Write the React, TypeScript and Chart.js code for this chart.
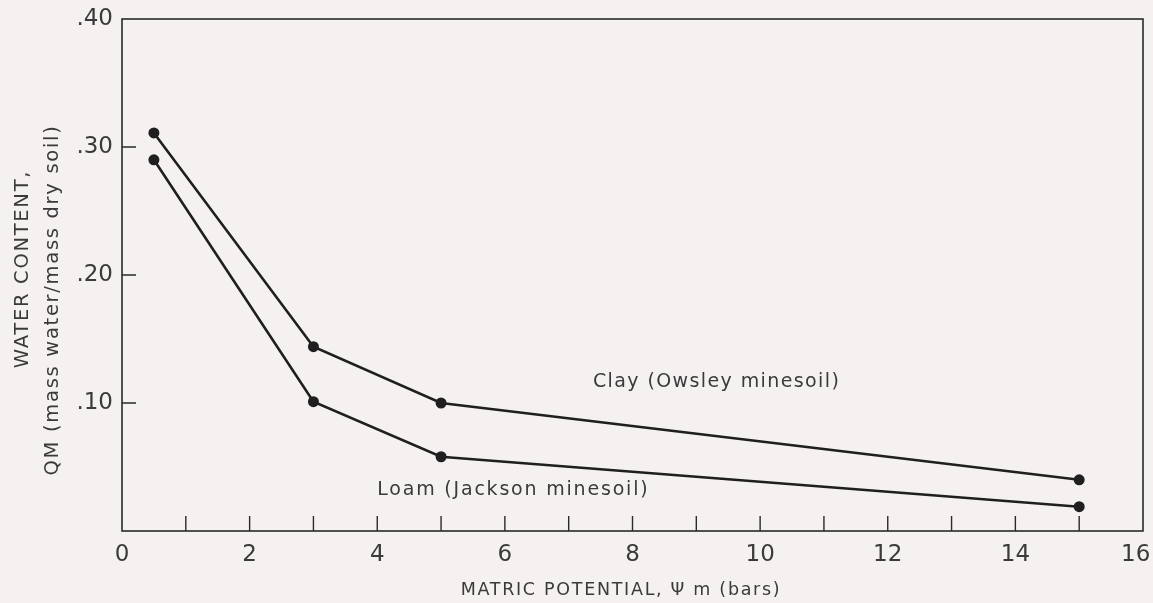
import React, { useEffect, useRef } from "react";
import { Chart, registerables } from "chart.js";
Chart.register(...registerables);

// Data
const matricPotential = [0.5, 3, 5, 15];
const clayWater = [0.311, 0.144, 0.1, 0.04];
const loamWater = [0.29, 0.101, 0.058, 0.019];
const clayLabel = "Clay (Owsley minesoil)";
const loamLabel = "Loam (Jackson minesoil)";
const clayLabelAt = [7.38, 0.116];
const loamLabelAt = [4.0, 0.032];
const xTitle = "MATRIC POTENTIAL, \u03A8 m (bars)";
const yTitleLines = ["WATER CONTENT,", "QM (mass water/mass dry soil)"];

const BG = "#f6f1f1";
const INK = "#1f1f1f";
const TEXT = "#3a3a3a";
const FONT = "'DejaVu Sans', sans-serif";

const decorPlugin = {
  id: "decor",
  afterDraw(chart: any) {
    const ctx = chart.ctx as CanvasRenderingContext2D;
    const { left, right, top, bottom } = chart.chartArea;
    const xs = chart.scales.x;
    const ys = chart.scales.y;
    ctx.save();
    // frame
    ctx.strokeStyle = "#2a2a2a";
    ctx.lineWidth = 1.6;
    ctx.strokeRect(left, top, right - left, bottom - top);
    // inward ticks
    ctx.lineWidth = 1.4;
    ctx.beginPath();
    xs.ticks.forEach((t: any) => {
      if (t.value <= xs.min || t.value >= xs.max) return;
      const px = xs.getPixelForValue(t.value);
      ctx.moveTo(px, bottom);
      ctx.lineTo(px, bottom - 15);
    });
    ys.ticks.forEach((t: any) => {
      if (t.value <= ys.min + 1e-9 || t.value >= ys.max - 1e-9) return;
      const py = ys.getPixelForValue(t.value);
      ctx.moveTo(left, py);
      ctx.lineTo(left + 14, py);
    });
    ctx.stroke();

    // series annotations
    ctx.fillStyle = TEXT;
    ctx.font = `19px ${FONT}`;
    (ctx as any).letterSpacing = "1.4px";
    ctx.textAlign = "left";
    ctx.textBaseline = "middle";
    ctx.fillText(clayLabel, xs.getPixelForValue(clayLabelAt[0]), ys.getPixelForValue(clayLabelAt[1]));
    (ctx as any).letterSpacing = "1.8px";
    ctx.fillText(loamLabel, xs.getPixelForValue(loamLabelAt[0]), ys.getPixelForValue(loamLabelAt[1]));

    // x title
    ctx.font = `17.5px ${FONT}`;
    (ctx as any).letterSpacing = "1.7px";
    ctx.textAlign = "center";
    ctx.fillText(xTitle, 621, 590);

    // y title (two rotated lines)
    ctx.font = `19.5px ${FONT}`;
    (ctx as any).letterSpacing = "1.7px";
    ctx.save();
    ctx.translate(23, 269);
    ctx.rotate(-Math.PI / 2);
    ctx.fillText(yTitleLines[0], 0, 0);
    ctx.restore();
    ctx.save();
    ctx.translate(53, 300);
    ctx.rotate(-Math.PI / 2);
    ctx.fillText(yTitleLines[1], 0, 0);
    ctx.restore();
    ctx.restore();
  },
};

const bgPlugin = {
  id: "bg",
  beforeDraw(chart: any) {
    const ctx = chart.ctx;
    ctx.save();
    ctx.fillStyle = BG;
    ctx.fillRect(0, 0, chart.width, chart.height);
    ctx.restore();
  },
};

export default function App() {
  const ref = useRef<HTMLCanvasElement | null>(null);
  useEffect(() => {
    if (!ref.current) return;
    const mk = (ys: number[]) => matricPotential.map((x, i) => ({ x, y: ys[i] }));
    const ds = (label: string, ys: number[]) => ({
      label,
      data: mk(ys),
      borderColor: INK,
      backgroundColor: INK,
      borderWidth: 2.6,
      pointRadius: 5.5,
      pointBackgroundColor: INK,
      pointBorderWidth: 0,
      showLine: true,
      tension: 0,
    });
    const chart = new Chart(ref.current, {
      type: "scatter",
      data: { datasets: [ds("Clay (Owsley minesoil)", clayWater), ds("Loam (Jackson minesoil)", loamWater)] },
      options: {
        animation: false,
        responsive: false,
        layout: { padding: { top: 19, right: 10, left: 0, bottom: 0 } },
        plugins: { legend: { display: false }, tooltip: { enabled: false } },
        scales: {
          x: {
            type: "linear",
            min: 0,
            max: 16,
            grid: { display: false, drawTicks: false, tickLength: 0 },
            border: { display: false },
            ticks: {
              stepSize: 1,
              autoSkip: false,
              maxRotation: 0,
              padding: 10,
              color: TEXT,
              font: { family: FONT, size: 23 },
              callback: (v: any) => {
                const n = Number(v);
                if (n % 2 !== 0) return "";
                return n === 16 ? "16\u00A0\u00A0" : String(n);
              },
            },
            afterFit: (s: any) => {
              s.height = 72;
              s.paddingLeft = 0;
              s.paddingRight = 0;
            },
          },
          y: {
            type: "linear",
            min: 0,
            max: 0.4,
            grid: { display: false, drawTicks: false, tickLength: 0 },
            border: { display: false },
            ticks: {
              stepSize: 0.1,
              padding: 9,
              color: TEXT,
              font: { family: FONT, size: 23 },
              callback: (v: any) => {
                const n = Math.round(Number(v) * 100);
                return n === 0 ? "" : "." + String(n).padStart(2, "0");
              },
            },
            afterFit: (s: any) => {
              s.width = 122;
              s.paddingTop = 0;
              s.paddingBottom = 0;
            },
          },
        },
      },
      plugins: [bgPlugin, decorPlugin],
    } as any);
    return () => chart.destroy();
  }, []);
  return (
    <div style={{ position: "fixed", left: 0, top: 0, width: 1153, height: 603, background: BG }}>
      <canvas ref={ref} width={1153} height={603} style={{ display: "block" }} />
    </div>
  );
}
